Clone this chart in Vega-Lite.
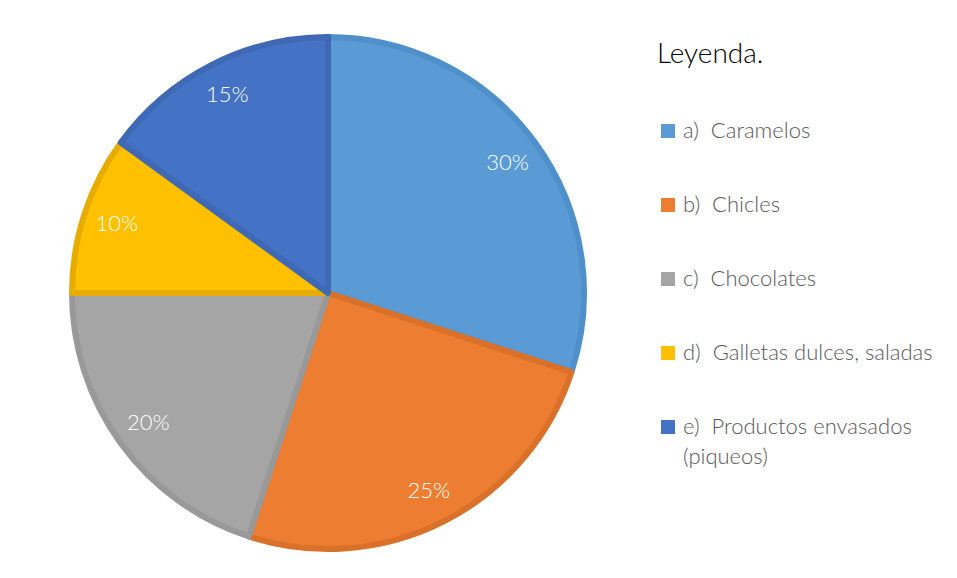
{
  "$schema": "https://vega.github.io/schema/vega-lite/v6.json",
  "width": 951,
  "height": 574,
  "autosize": "none",
  "padding": {"left": 6, "top": 4, "right": 0, "bottom": 0},
  "background": "white",
  "config": {
    "view": {"stroke": "#d9d9d9", "strokeWidth": 2},
    "style": {"guide-label": {"lineHeight": 30}}
  },
  "data": {"values": [
    {"cat": "a)\u00a0\u00a0Caramelos", "value": 30, "k": 1, "label": "30%"},
    {"cat": "b)\u00a0\u00a0Chicles", "value": 25, "k": 2, "label": "25%"},
    {"cat": "c)\u00a0\u00a0Chocolates", "value": 20, "k": 3, "label": "20%"},
    {"cat": "d)\u00a0\u00a0Galletas dulces, saladas", "value": 10, "k": 4, "label": "10%"},
    {"cat": "e)\u00a0\u00a0Productos envasados (piqueos)", "value": 15, "k": 5, "label": "15%"}
  ]},
  "encoding": {
    "theta": {"field": "value", "type": "quantitative", "stack": true},
    "order": {"field": "k", "type": "quantitative"}
  },
  "layer": [
    {
      "mark": {"type": "arc", "x": 322, "y": 289, "outerRadius": 256, "strokeWidth": 6, "strokeJoin": "round"},
      "encoding": {
        "color": {
          "field": "cat", "type": "nominal",
          "scale": {"range": ["#5B9BD5", "#ED7D31", "#A5A5A5", "#FFC000", "#4472C4"]},
          "legend": {
            "orient": "none", "legendX": 651, "legendY": 37,
            "title": "Leyenda.", "titleFont": "Lato", "titleFontSize": 28, "titleFontWeight": 300,
            "titleColor": "#000000", "titlePadding": 51, "titleBaseline": "top",
            "symbolType": "square", "symbolSize": 196, "symbolStrokeWidth": 0,
            "labelFont": "Lato", "labelFontSize": 22, "labelFontWeight": 300, "labelColor": "#595959",
            "labelOffset": 4, "rowPadding": 52, "labelLimit": 400,
            "labelExpr": "indexof(datum.label, 'Productos') >= 0 ? ['e)\u00a0\u00a0Productos envasados', '(piqueos)'] : datum.label"
          }
        },
        "stroke": {
          "field": "cat", "type": "nominal",
          "scale": {"range": ["#5090CA", "#D9712B", "#999999", "#E6AD00", "#3F68B5"]},
          "legend": null
        }
      }
    },
    {
      "mark": {"type": "text", "x": 322, "y": 289, "radius": 222, "font": "Lato", "fontSize": 22, "fontWeight": 300, "fill": "white"},
      "encoding": {"text": {"field": "label"}}
    }
  ]
}
